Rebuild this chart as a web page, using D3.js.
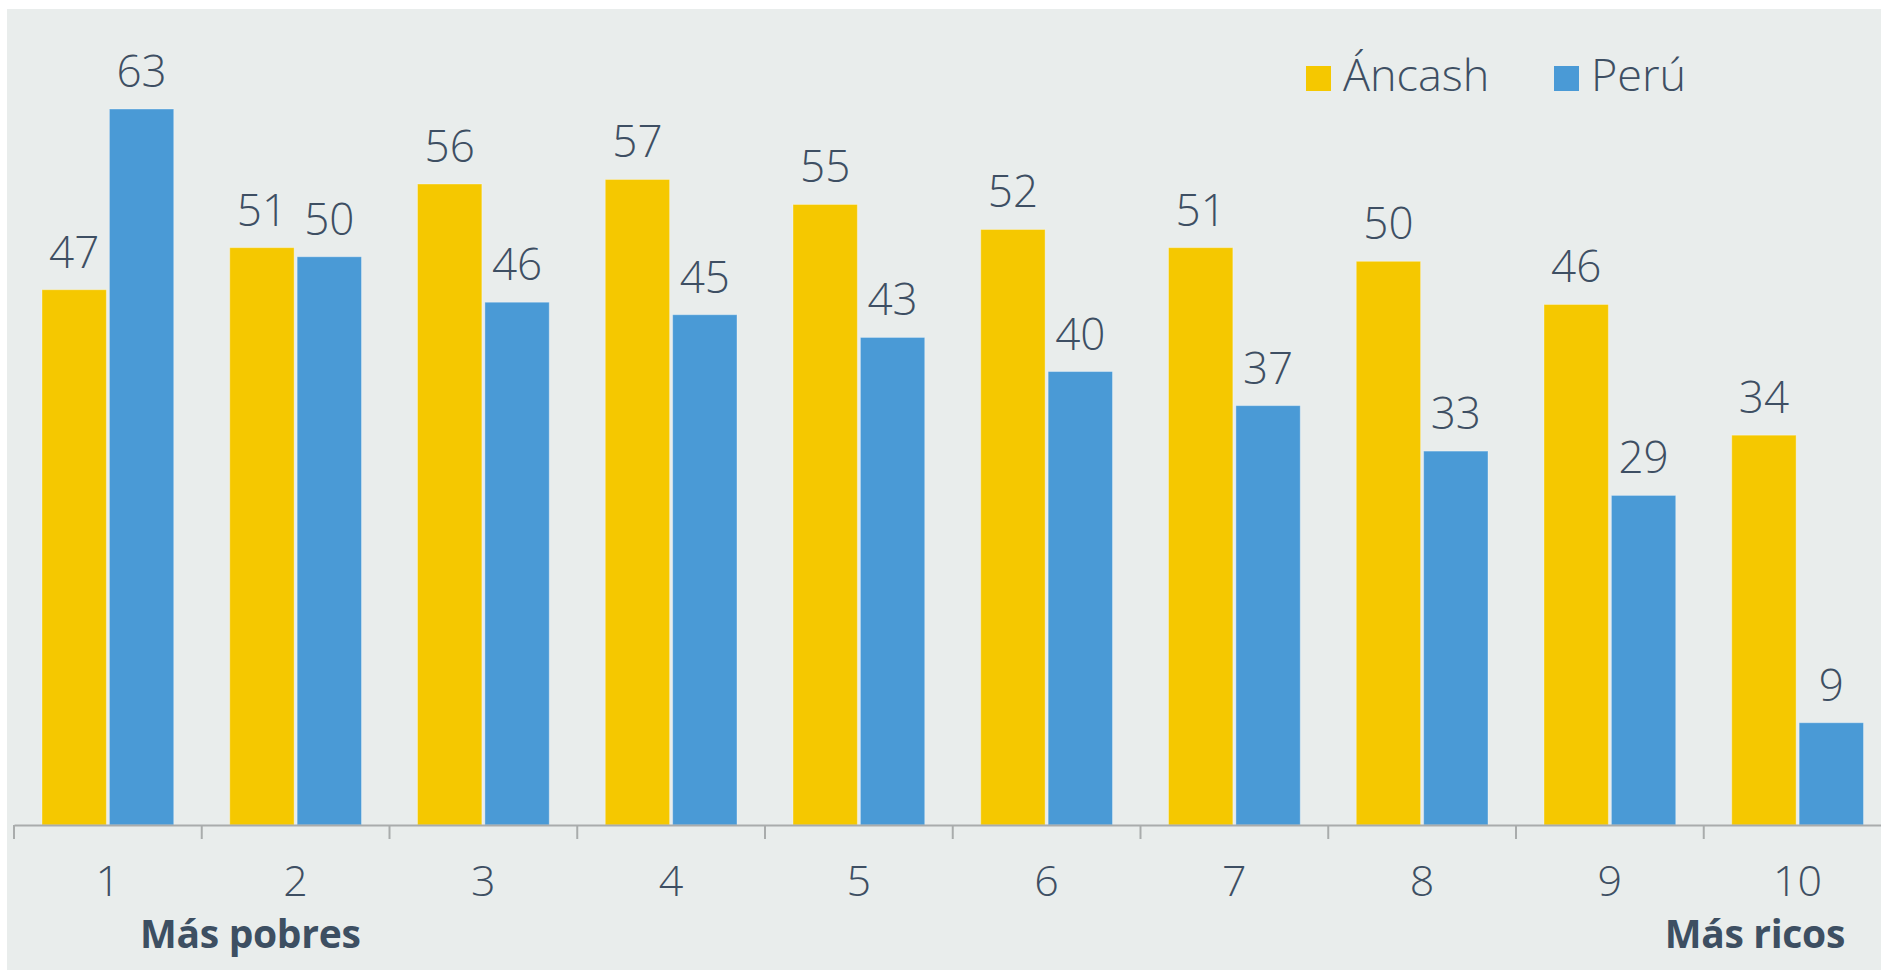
<!DOCTYPE html>
<html><head><meta charset="utf-8">
<script src="https://cdn.jsdelivr.net/npm/d3@7"></script>
<style>html,body{margin:0;padding:0;background:#fff;overflow:hidden}svg{display:block}</style>
</head><body>
<script>
const categories = ["1","2","3","4","5","6","7","8","9","10"];
const seriesNames = ["Áncash","Perú"];
const ancash = [47.1,50.8,56.4,56.8,54.6,52.4,50.8,49.6,45.8,34.3];
const peru = [63,50,46,44.9,42.9,39.9,36.9,32.9,29,9];
const colors = ["#F5C800","#4A9AD6"];
const textColor = "#3e4f63";
const font = "'Open Sans', sans-serif";

const W = 1881, H = 970;
const svg = d3.select("body").append("svg").attr("width", W).attr("height", H);
svg.append("rect").attr("x", 7).attr("y", 9).attr("width", W - 7).attr("height", H - 9).attr("fill", "#E9EDEC");

const bandW = 187.75;
const x0 = d3.scaleBand().domain(categories).range([14, 14 + bandW * categories.length]).padding(0);
const x1 = d3.scaleBand().domain(seriesNames).range([28, bandW - 28]).paddingInner(0.045);
const y = d3.scaleLinear().domain([0, 63]).range([825, 109]);

const data = categories.map((c, i) => ({c, vals: [ancash[i], peru[i]]}));

const g = svg.append("g");
const groups = g.selectAll("g.grp").data(data).join("g").attr("class", "grp")
  .attr("transform", d => `translate(${x0(d.c)},0)`);

groups.selectAll("rect").data(d => d.vals.map((v, k) => ({k, v}))).join("rect")
  .attr("x", d => x1(seriesNames[d.k]))
  .attr("width", x1.bandwidth())
  .attr("y", d => y(d.v))
  .attr("height", d => y(0) - y(d.v))
  .attr("fill", d => colors[d.k])
  .attr("stroke", "rgba(255,255,255,0.35)").attr("stroke-width", 1);

groups.selectAll("text.val").data(d => d.vals.map((v, k) => ({k, v}))).join("text")
  .attr("class", "val")
  .attr("x", d => x1(seriesNames[d.k]) + x1.bandwidth() / 2)
  .attr("y", d => y(d.v) - 22)
  .attr("text-anchor", "middle")
  .attr("font-family", font).attr("font-weight", 300).attr("font-size", 44)
  .attr("fill", textColor)
  .text(d => Math.round(d.v));

// axis
const axis = d3.axisBottom(x0).tickSize(0).tickPadding(0).tickSizeOuter(0);
const ax = svg.append("g").attr("transform", "translate(0,825)").call(axis);
ax.select(".domain").attr("stroke", "#a9acac").attr("stroke-width", 2);
ax.selectAll(".tick text").attr("font-family", font).attr("font-weight", 300).attr("font-size", 43)
  .attr("fill", textColor).attr("dy", null).attr("y", 71);
// tick marks at band boundaries
svg.append("g").selectAll("line").data(categories).join("line")
  .attr("x1", d => x0(d)).attr("x2", d => x0(d))
  .attr("y1", 825).attr("y2", 839)
  .attr("stroke", "#a9acac").attr("stroke-width", 2);

svg.append("text").attr("x", 140).attr("y", 948).attr("font-family", font).attr("font-weight", 700)
  .attr("font-size", 39).attr("letter-spacing", -0.3).attr("fill", "#3d4f62").text("Más pobres");
svg.append("text").attr("x", 1845).attr("y", 948).attr("text-anchor", "end").attr("font-family", font).attr("font-weight", 700)
  .attr("font-size", 39).attr("letter-spacing", -0.3).attr("fill", "#3d4f62").text("Más ricos");

// legend
const legX = [1306, 1554];
const leg = svg.append("g").selectAll("g").data(seriesNames).join("g")
  .attr("transform", (d, i) => `translate(${legX[i]},66)`);
leg.append("rect").attr("width", 25).attr("height", 25).attr("fill", (d, i) => colors[i]);
leg.append("text").attr("x", 37).attr("y", 25).attr("font-family", font).attr("font-weight", 300)
  .attr("font-size", 45).attr("fill", textColor).text(d => d);
</script>
</body></html>
